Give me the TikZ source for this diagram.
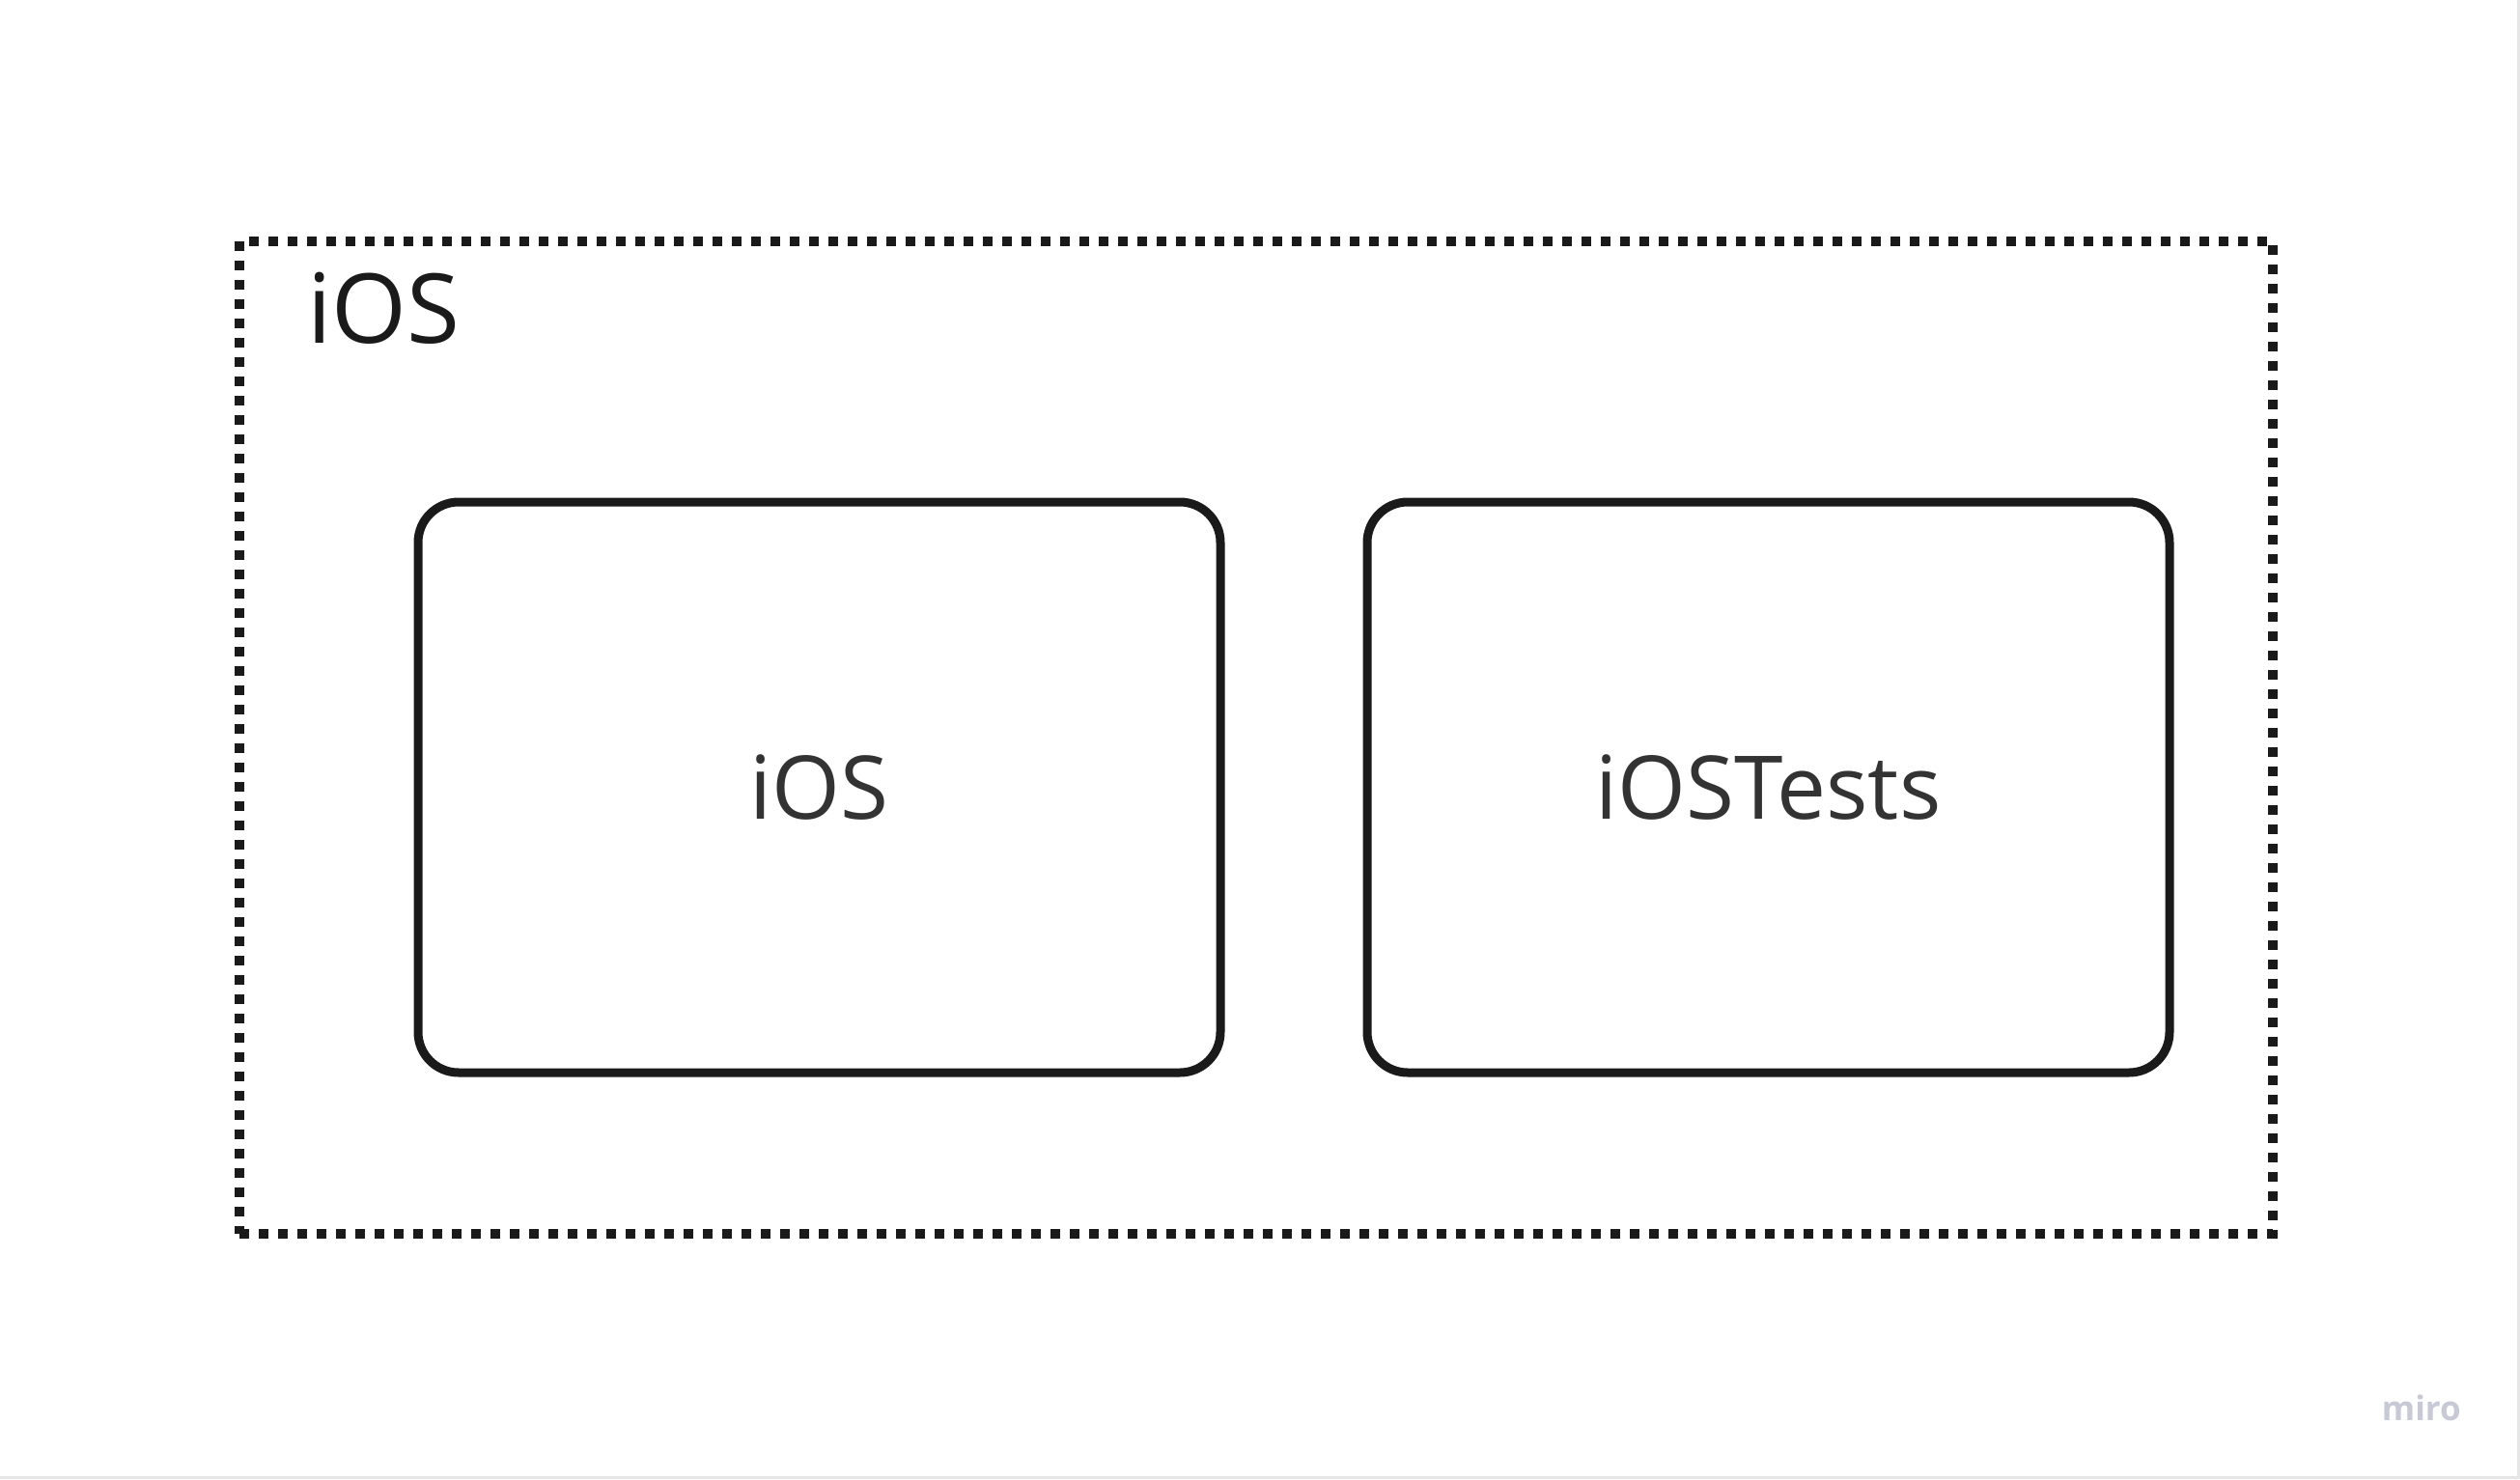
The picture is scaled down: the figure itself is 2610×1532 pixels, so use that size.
\documentclass[tikz,border=0pt]{standalone}
\usepackage{fontspec}
\setmainfont{Open Sans}
\usetikzlibrary{positioning}
\definecolor{ink}{HTML}{1A1A1A}
\definecolor{label}{HTML}{333333}
\definecolor{mark}{HTML}{C8C9D6}
\definecolor{edge}{HTML}{E6E6E6}

\begin{document}
\begin{tikzpicture}[x=1pt,y=-1pt,
  target/.style={draw=ink,line width=9pt,rounded corners=42pt,minimum width=831pt,minimum height=591pt,
    text=label,font=\fontsize{91}{100}\selectfont},
  group/.style={draw=ink,line width=10pt,dash pattern=on 10pt off 10pt,minimum width=2106pt,minimum height=1028pt},
  every node/.style={inner sep=0pt}]
  \useasboundingbox[fill=white] (0,0) rectangle (2610,1532);
  \draw[edge,line width=3pt] (2608.5,0) -- (2608.5,1530.5) -- (0,1530.5);
  \node[group] (ios group) at (1301,764) {};
  \node[anchor=base west,text=ink,font=\fontsize{100}{110}\selectfont] (group title) at (318,355) {iOS};
  \node[target] (ios) at (848.5,815.5) {iOS};
  \node[target,right=143pt of ios] (ios tests) {iOSTests};
  \node[anchor=base east,text=mark,font=\bfseries\fontsize{35}{40}\selectfont] (miro) at (2549,1471) {miro};
\end{tikzpicture}
\end{document}
